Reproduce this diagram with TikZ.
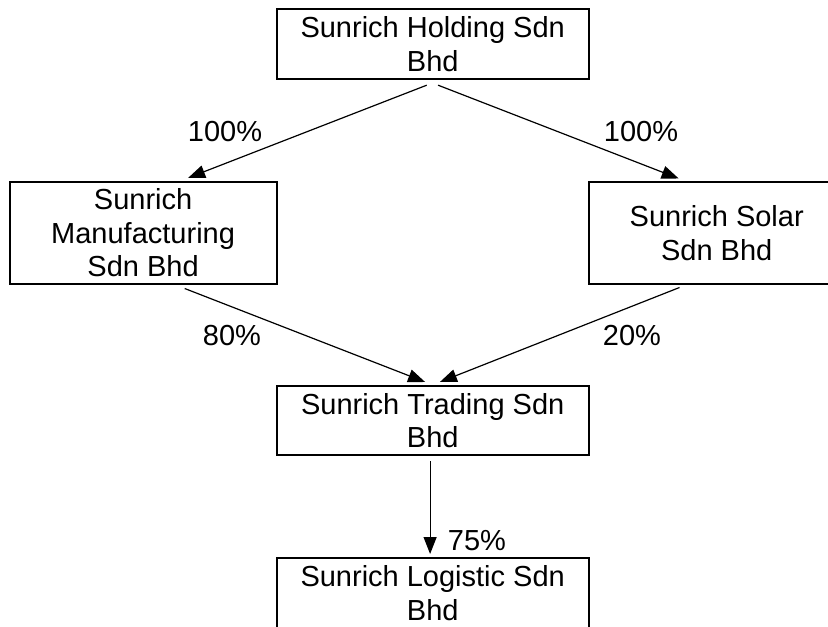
\documentclass[tikz,border=0pt]{standalone}
\usepackage{fontspec}
\setmainfont{Liberation Sans}
\usetikzlibrary{arrows.meta}

\tikzset{
  firm/.style={draw, line width=1pt, inner sep=0pt, align=center,
    font=\fontsize{14.5pt}{16.8pt}\selectfont},
  own/.style={line width=0.6pt, -{Triangle[length=8.5pt,width=6.5pt]}},
  share/.style={inner sep=0pt, font=\fontsize{14.5pt}{16.8pt}\selectfont}
}

\begin{document}
\begin{tikzpicture}[x=0.5pt, y=-0.5pt]
\useasboundingbox (0,0) rectangle (828,626);

\node[firm, minimum width=156pt, minimum height=35pt] (hold) at (432.7,44.2)
  {Sunrich Holding Sdn\\Bhd};
\node[firm, minimum width=133.5pt, minimum height=51pt] (manu) at (143.1,232.9)
  {Sunrich\\Manufacturing\\Sdn Bhd};
\node[firm, minimum width=128pt, minimum height=51pt] (solar) at (716.7,232.9)
  {Sunrich Solar\\Sdn Bhd};
\node[firm, minimum width=156pt, minimum height=34.5pt] (trade) at (432.7,420.5)
  {Sunrich Trading Sdn\\Bhd};
\node[firm, minimum width=156pt, minimum height=35pt] (logi) at (432.7,593)
  {Sunrich Logistic Sdn\\Bhd};

\node[share] (p1) at (225,132) {100\%};
\node[share] (p2) at (641,132) {100\%};
\node[share] (p3) at (232,336) {80\%};
\node[share] (p4) at (632,336) {20\%};
\node[share] (p5) at (477,541) {75\%};

\draw[own] ([xshift=-3pt,yshift=-2.5pt]hold.south) -- ([xshift=22.5pt,yshift=1.5pt]manu.north);
\draw[own] ([xshift=2.7pt,yshift=-2.5pt]hold.south) -- ([xshift=-19pt,yshift=1.2pt]solar.north);
\draw[own] ([xshift=20.8pt,yshift=-1.8pt]manu.south) -- ([xshift=-3.8pt,yshift=1.5pt]trade.north);
\draw[own] ([xshift=-18.6pt,yshift=-1.3pt]solar.south) -- ([xshift=3.6pt,yshift=1.5pt]trade.north);
\draw[own] ([xshift=-1.3pt,yshift=-2.5pt]trade.south) -- ([xshift=-1.3pt,yshift=1.5pt]logi.north);
\end{tikzpicture}
\end{document}
